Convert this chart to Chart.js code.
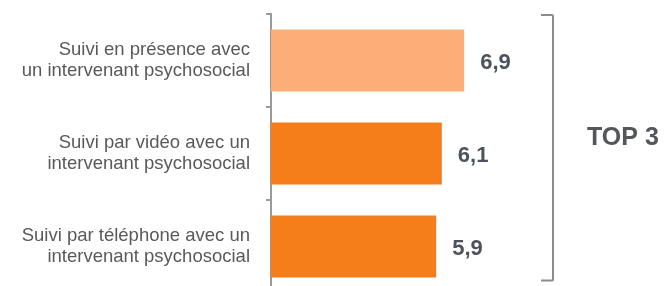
<!DOCTYPE html>
<html>
<head>
<meta charset="utf-8">
<script src="https://cdn.jsdelivr.net/npm/chart.js@4/dist/chart.umd.min.js"></script>
<style>
  html, body { margin: 0; padding: 0; background: #ffffff; overflow: hidden; }
  #wrap { position: absolute; left: 0; top: 0; width: 666px; height: 300px; }
</style>
</head>
<body>
<div id="wrap"><canvas id="c" width="666" height="300"></canvas></div>
<script>
const categories = [
  ["Suivi en présence avec", "un intervenant psychosocial"],
  ["Suivi par vidéo avec un", "intervenant psychosocial"],
  ["Suivi par téléphone avec un", "intervenant psychosocial"]
];
const values = [6.9, 6.1, 5.9];
const barColors = ["#FDAE78", "#F57E1A", "#F57E1A"];
const bracketLabel = "TOP 3";

const valueLabels = {
  id: 'valueLabels',
  afterDatasetsDraw(chart) {
    const ctx = chart.ctx;
    const meta = chart.getDatasetMeta(0);
    ctx.save();
    ctx.font = 'bold 22px "Liberation Sans", Arial, sans-serif';
    ctx.fillStyle = '#4D525B';
    ctx.textAlign = 'left';
    ctx.textBaseline = 'middle';
    meta.data.forEach((bar, i) => {
      const txt = values[i].toFixed(1).replace('.', ',');
      ctx.fillText(txt, bar.x + 16, bar.y + 2);
    });
    ctx.restore();
  }
};

const bracket = {
  id: 'bracket',
  afterDraw(chart) {
    const ctx = chart.ctx;
    const a = chart.chartArea;
    const x = a.right + 2;
    const top = a.top;
    const bottom = 280.5;
    ctx.save();
    ctx.strokeStyle = '#8C8C8C';
    ctx.lineWidth = 2;
    ctx.lineJoin = 'round';
    ctx.beginPath();
    ctx.moveTo(x - 12, top + 1);
    ctx.lineTo(x - 1, top + 1);
    ctx.quadraticCurveTo(x, top + 1, x, top + 2);
    ctx.lineTo(x, bottom - 1);
    ctx.quadraticCurveTo(x, bottom, x - 1, bottom);
    ctx.lineTo(x - 12, bottom);
    ctx.stroke();
    ctx.font = 'bold 25px "Liberation Sans", Arial, sans-serif';
    ctx.fillStyle = '#53565B';
    ctx.textAlign = 'left';
    ctx.textBaseline = 'middle';
    ctx.fillText(bracketLabel, 587, 138);
    ctx.restore();
  }
};

new Chart(document.getElementById('c'), {
  type: 'bar',
  data: {
    labels: categories,
    datasets: [{
      data: values,
      backgroundColor: barColors,
      borderWidth: 0,
      barPercentage: 0.667,
      categoryPercentage: 1
    }]
  },
  options: {
    indexAxis: 'y',
    responsive: false,
    animation: false,
    devicePixelRatio: 1,
    layout: { padding: { top: 14, bottom: 7, right: 115, left: 0 } },
    plugins: { legend: { display: false }, tooltip: { enabled: false } },
    scales: {
      x: { display: false, min: 0, max: 10 },
      y: {
        afterFit(scale) { scale.width = 271; scale.paddingTop = 0; scale.paddingBottom = 0; },
        grid: { drawOnChartArea: false, drawTicks: true, tickLength: 5, color: '#9A9A9A', lineWidth: 2, offset: true },
        border: { display: true, color: '#9A9A9A', width: 2 },
        ticks: {
          padding: 16,
          color: '#595959',
          font: { family: '"Liberation Sans", Arial, sans-serif', size: 18.5, lineHeight: 1.17 }
        }
      }
    }
  },
  plugins: [valueLabels, bracket]
});
</script>
</body>
</html>
